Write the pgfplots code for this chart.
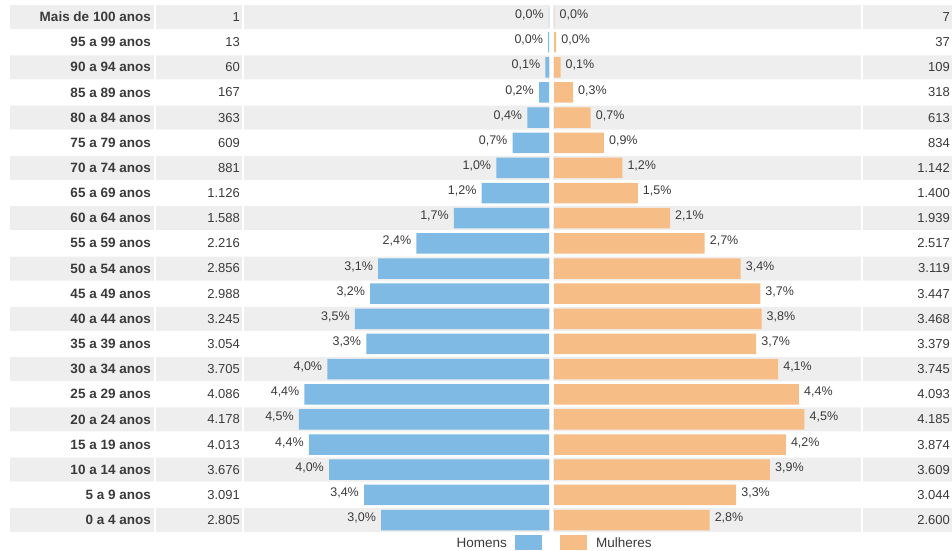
\documentclass[border=0pt]{standalone}
\usepackage{pgfplots}
\pgfplotsset{compat=1.18}
\usepackage{pgfplotstable}
\usepackage{fontspec}
\setmainfont{Liberation Sans}
\definecolor{mblue}{HTML}{7EBAE4}
\definecolor{forange}{HTML}{F7BD87}
\definecolor{band}{HTML}{EEEEEE}
\definecolor{txt}{HTML}{3A3A3A}

\pgfplotstableread{
i men women mp wp mc wc
0 2805 2600 3,0 2,8 2.805 2.600
1 3091 3044 3,4 3,3 3.091 3.044
2 3676 3609 4,0 3,9 3.676 3.609
3 4013 3874 4,4 4,2 4.013 3.874
4 4178 4185 4,5 4,5 4.178 4.185
5 4086 4093 4,4 4,4 4.086 4.093
6 3705 3745 4,0 4,1 3.705 3.745
7 3054 3379 3,3 3,7 3.054 3.379
8 3245 3468 3,5 3,8 3.245 3.468
9 2988 3447 3,2 3,7 2.988 3.447
10 2856 3119 3,1 3,4 2.856 3.119
11 2216 2517 2,4 2,7 2.216 2.517
12 1588 1939 1,7 2,1 1.588 1.939
13 1126 1400 1,2 1,5 1.126 1.400
14 881 1142 1,0 1,2 881 1.142
15 609 834 0,7 0,9 609 834
16 363 613 0,4 0,7 363 613
17 167 318 0,2 0,3 167 318
18 60 109 0,1 0,1 60 109
19 13 37 0,0 0,0 13 37
20 1 7 0,0 0,0 1 7
}\pyr

\pgfplotstableread{
i w
0 942
2 942
4 942
6 942
8 942
10 942
12 942
14 942
16 942
18 942
20 942
}\bands

\pgfplotsset{pyr/.style={scale only axis, height=550pt, ymin=-1.193, ymax=20.676,
  axis line style={draw=none}, tick style={draw=none}, major tick length=0pt,
  xtick=\empty, ytick=\empty, clip=false, anchor=south west}}

\begin{document}
\begin{tikzpicture}
% background table
\begin{axis}[pyr, at={(0pt,0pt)}, width=952pt, xmin=-10, xmax=942, axis on top,
  ytick={0,...,20},
  yticklabels={0 a 4 anos,5 a 9 anos,10 a 14 anos,15 a 19 anos,20 a 24 anos,25 a 29 anos,30 a 34 anos,35 a 39 anos,40 a 44 anos,45 a 49 anos,50 a 54 anos,55 a 59 anos,60 a 64 anos,65 a 69 anos,70 a 74 anos,75 a 79 anos,80 a 84 anos,85 a 89 anos,90 a 94 anos,95 a 99 anos,Mais de 100 anos},
  yticklabel style={anchor=east, inner sep=0pt, xshift=151pt, font=\fontsize{13.5}{15}\selectfont\bfseries, text=txt}]
\addplot[xbar, bar width=24pt, fill=band, draw=none] table[x=w, y=i]{\bands};
\draw[white, line width=1.5pt] (axis cs:145,-1.2) -- (axis cs:145,20.7);
\draw[white, line width=1.5pt] (axis cs:233,-1.2) -- (axis cs:233,20.7);
\draw[white, line width=3pt] (axis cs:541.7,-1.2) -- (axis cs:541.7,20.7);
\draw[white, line width=1.5pt] (axis cs:852,-1.2) -- (axis cs:852,20.7);
\addplot[draw=none, nodes near coords, point meta=explicit symbolic,
  nodes near coords style={anchor=east, inner sep=0pt, font=\fontsize{13}{15}\selectfont, text=txt}]
  table[x expr=230, y=i, meta=mc]{\pyr};
\addplot[draw=none, nodes near coords, point meta=explicit symbolic,
  nodes near coords style={anchor=east, inner sep=0pt, font=\fontsize{13}{15}\selectfont, text=txt}]
  table[x expr=940, y=i, meta=wc]{\pyr};
\end{axis}
% men
\begin{axis}[pyr, at={(249pt,0pt)}, width=300pt, xmin=0, xmax=5013.4, x dir=reverse]
\addplot[xbar, bar width=20.5pt, fill=mblue, draw=none] table[x=men, y=i]{\pyr};
\addplot[draw=none, nodes near coords={\pgfplotspointmeta\%}, point meta=explicit symbolic,
  nodes near coords style={anchor=east, inner sep=0pt, xshift=-5pt, yshift=2pt, font=\fontsize{12.5}{14}\selectfont, text=txt}]
  table[x=men, y=i, meta=mp]{\pyr};
\end{axis}
% women
\begin{axis}[pyr, at={(554pt,0pt)}, width=300pt, xmin=0, xmax=5013.4]
\addplot[xbar, bar width=20.5pt, fill=forange, draw=none] table[x=women, y=i]{\pyr};
\addplot[draw=none, nodes near coords={\pgfplotspointmeta\%}, point meta=explicit symbolic,
  nodes near coords style={anchor=west, inner sep=0pt, xshift=5pt, yshift=2pt, font=\fontsize{12.5}{14}\selectfont, text=txt}]
  table[x=women, y=i, meta=wp]{\pyr};
\end{axis}
% legend
\fill[mblue] (515pt,0pt) rectangle (542pt,15pt);
\fill[forange] (560pt,0pt) rectangle (587pt,15pt);
\node[anchor=east, inner sep=0pt, font=\fontsize{13.5}{15}\selectfont, text=txt] at (507pt,7pt) {Homens};
\node[anchor=west, inner sep=0pt, font=\fontsize{13.5}{15}\selectfont, text=txt] at (596pt,7pt) {Mulheres};
\pgfresetboundingbox
\path[use as bounding box] (0pt,0pt) rectangle (952pt,550pt);
\end{tikzpicture}
\end{document}
